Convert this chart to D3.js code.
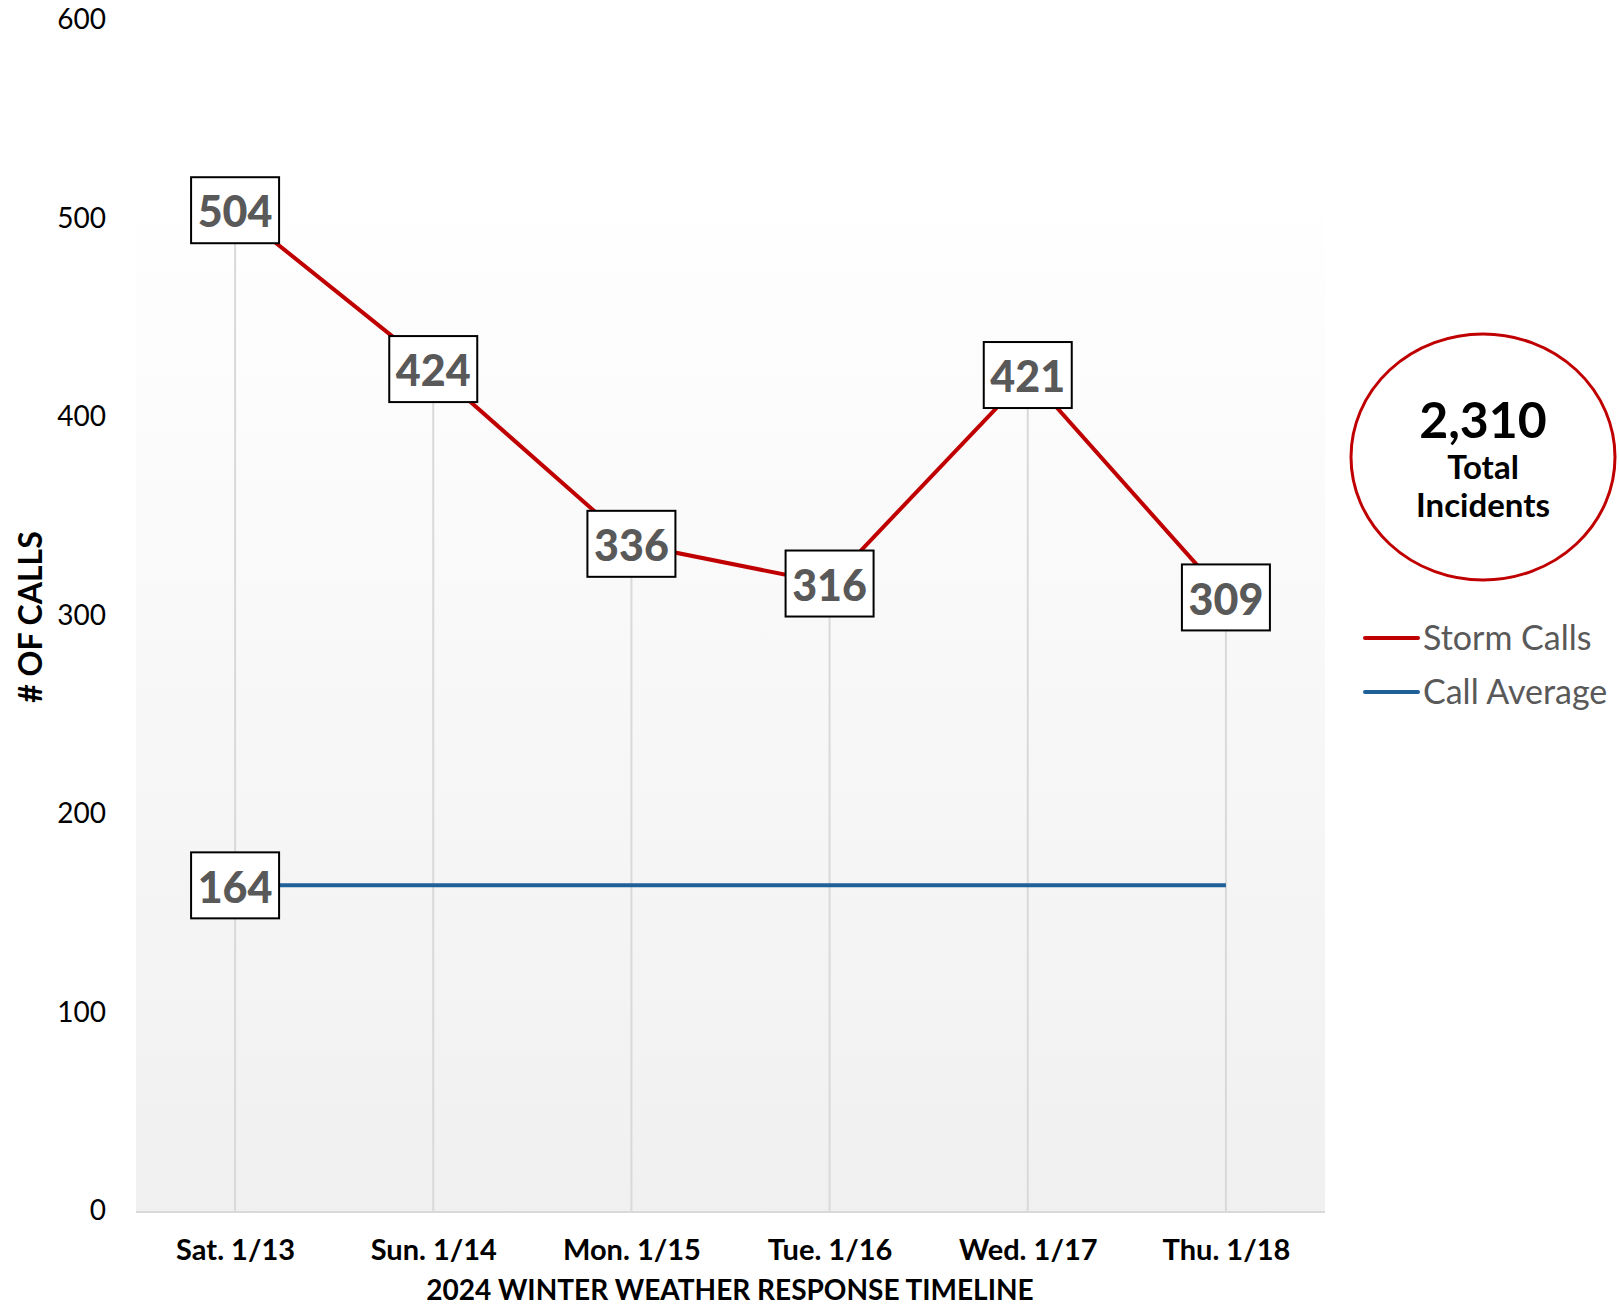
<!DOCTYPE html>
<html>
<head>
<meta charset="utf-8">
<script src="https://cdn.jsdelivr.net/npm/d3@7"></script>
<style>
  body { margin: 0; background: #fff; }
  svg { display: block; font-family: Lato, "Open Sans", sans-serif; }
</style>
</head>
<body>
<div id="chart"></div>
<script>
// chart data
var days = ["Sat. 1/13", "Sun. 1/14", "Mon. 1/15", "Tue. 1/16", "Wed. 1/17", "Thu. 1/18"];
var stormCalls = [504, 424, 336, 316, 421, 309];
var callAverage = [164, 164, 164, 164, 164, 164];
var yTicks = [0, 100, 200, 300, 400, 500, 600];
var seriesNames = ["Storm Calls", "Call Average"];

var width = 1619, height = 1306;
var plot = { left: 136, right: 1325, top: 175, bottom: 1212 };

var svg = d3.select("#chart").append("svg")
    .attr("width", width)
    .attr("height", height);

var x = d3.scalePoint()
    .domain(days)
    .range([plot.left, plot.right])
    .padding(0.5);

var y = d3.scaleLinear()
    .domain([0, 600])
    .range([1211, 19.6]);

// plot area gradient, white at top to light grey at bottom
var grad = svg.append("defs").append("linearGradient")
    .attr("id", "plotGrad")
    .attr("x1", 0).attr("y1", 0).attr("x2", 0).attr("y2", 1);
grad.append("stop").attr("offset", "0%").attr("stop-color", "#ffffff");
grad.append("stop").attr("offset", "100%").attr("stop-color", "#f0f0f0");

svg.append("rect")
    .attr("x", plot.left)
    .attr("y", plot.top)
    .attr("width", plot.right - plot.left)
    .attr("height", plot.bottom - plot.top)
    .style("fill", "url(#plotGrad)");

// drop lines from each storm point to the axis
svg.append("g")
    .selectAll("line")
    .data(stormCalls)
    .enter().append("line")
    .attr("x1", function(d, i) { return x(days[i]); })
    .attr("x2", function(d, i) { return x(days[i]); })
    .attr("y1", function(d) { return y(d); })
    .attr("y2", y(0))
    .style("stroke", "#d9d9d9")
    .style("stroke-width", 2);

// baseline
svg.append("line")
    .attr("x1", plot.left).attr("x2", plot.right)
    .attr("y1", y(0) + 1).attr("y2", y(0) + 1)
    .style("stroke", "#d9d9d9")
    .style("stroke-width", 2);

// y axis tick labels
var yAxis = svg.append("g")
    .attr("transform", "translate(106,0)")
    .call(d3.axisLeft(y).tickValues(yTicks).tickSize(0).tickPadding(0));
yAxis.select(".domain").remove();
yAxis.selectAll("text")
    .style("font-family", "Lato, sans-serif")
    .style("font-size", "28px")
    .style("fill", "#000");

// x axis labels
var xAxis = svg.append("g")
    .attr("transform", "translate(0," + (y(0) + 2) + ")")
    .call(d3.axisBottom(x).tickSize(0).tickPadding(26));
xAxis.select(".domain").remove();
xAxis.selectAll("text")
    .style("font-family", "Lato, sans-serif")
    .style("font-size", "29px")
    .style("font-weight", "bold")
    .style("fill", "#000");

// axis titles
svg.append("text")
    .attr("transform", "translate(42,617) rotate(-90)")
    .attr("text-anchor", "middle")
    .style("font-size", "32px")
    .style("font-weight", "bold")
    .text("# OF CALLS");

svg.append("text")
    .attr("x", 730)
    .attr("y", 1300)
    .attr("text-anchor", "middle")
    .style("font-size", "28px")
    .style("font-weight", "bold")
    .text("2024 WINTER WEATHER RESPONSE TIMELINE");

var line = d3.line()
    .x(function(d, i) { return x(days[i]); })
    .y(function(d) { return y(d); });

svg.append("path")
    .datum(callAverage)
    .attr("d", line)
    .style("fill", "none")
    .style("stroke", "#1f6098")
    .style("stroke-width", 4);

svg.append("path")
    .datum(stormCalls)
    .attr("d", line)
    .style("fill", "none")
    .style("stroke", "#c00000")
    .style("stroke-width", 4);

// boxed data labels
function addLabel(value, i) {
    var lg = svg.append("g")
        .attr("transform", "translate(" + x(days[i]) + "," + y(value) + ")");
    lg.append("rect")
        .attr("x", -44).attr("y", -33)
        .attr("width", 88).attr("height", 66)
        .style("fill", "#fff")
        .style("stroke", "#000")
        .style("stroke-width", 2);
    lg.append("text")
        .attr("text-anchor", "middle")
        .attr("dy", "0.4em")
        .style("font-size", "43px")
        .style("font-weight", "900")
        .style("fill", "#595959")
        .text(value);
}
stormCalls.forEach(function(d, i) { addLabel(d, i); });
addLabel(callAverage[0], 0);

// total incidents circle
var total = d3.sum(stormCalls);
var cg = svg.append("g").attr("transform", "translate(1483,457)");
cg.append("ellipse")
    .attr("rx", 132).attr("ry", 123)
    .style("fill", "#fff")
    .style("stroke", "#c00000")
    .style("stroke-width", 3);
cg.append("text")
    .attr("y", -19)
    .attr("text-anchor", "middle")
    .style("font-size", "50px")
    .style("font-weight", "bold")
    .text(d3.format(",")(total));
cg.append("text")
    .attr("y", 22)
    .attr("text-anchor", "middle")
    .style("font-size", "33px")
    .style("font-weight", "bold")
    .text("Total");
cg.append("text")
    .attr("y", 60)
    .attr("text-anchor", "middle")
    .style("font-size", "33px")
    .style("font-weight", "bold")
    .text("Incidents");

// legend
var legendColors = ["#c00000", "#1f6098"];
var legend = svg.append("g")
    .selectAll("g")
    .data(seriesNames)
    .enter().append("g")
    .attr("transform", function(d, i) { return "translate(1365," + (638 + i * 54) + ")"; });
legend.append("line")
    .attr("x1", 0).attr("x2", 53)
    .style("stroke", function(d, i) { return legendColors[i]; })
    .style("stroke-width", 4)
    .style("stroke-linecap", "round");
legend.append("text")
    .attr("x", 58)
    .attr("dy", "0.35em")
    .style("font-size", "34px")
    .style("fill", "#595959")
    .text(function(d) { return d; });
</script>
</body>
</html>
